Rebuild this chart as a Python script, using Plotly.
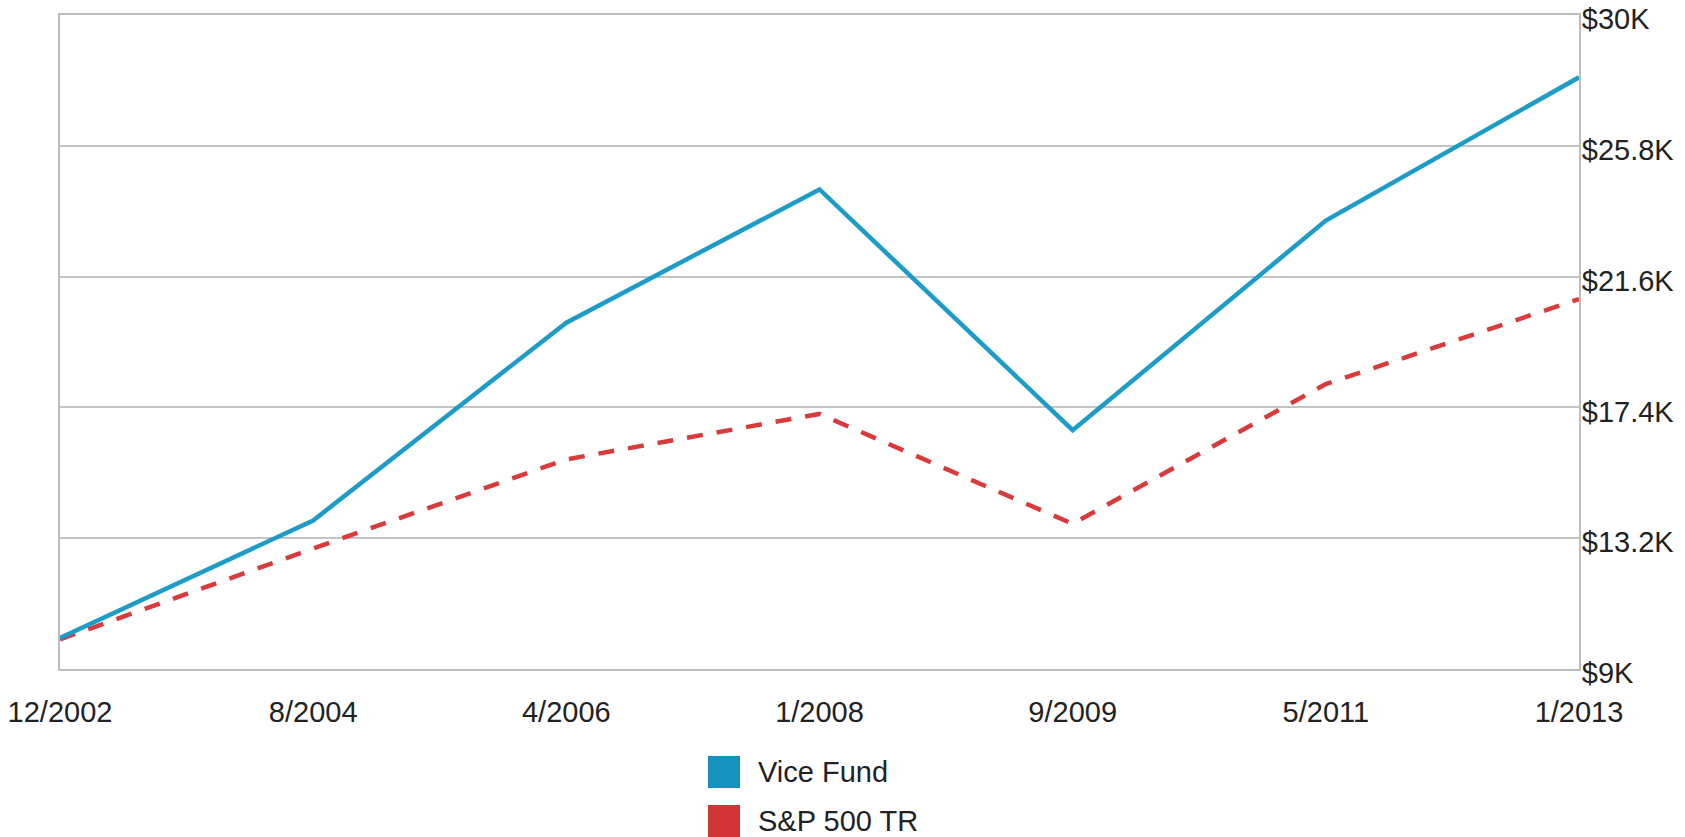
import plotly.graph_objects as go

dates = ["12/2002", "8/2004", "4/2006", "1/2008", "9/2009", "5/2011", "1/2013"]
vice_fund = [10000, 13770, 20120, 24400, 16670, 23400, 28000]
sp500_tr = [9950, 12870, 15730, 17190, 13660, 18150, 20880]
y_ticks = [9000, 13200, 17400, 21600, 25800, 30000]
y_labels = ["$9K", "$13.2K", "$17.4K", "$21.6K", "$25.8K", "$30K"]

BLUE = "#1c9cc6"
RED = "#d93a3c"
FONT = "Liberation Sans, Arial, Helvetica, sans-serif"

fig = go.Figure()
fig.add_trace(go.Scatter(x=list(range(len(dates))), y=sp500_tr, mode="lines",
                         name="S&P 500 TR", line=dict(color=RED, width=4.5, dash="16px,14px"),
                         showlegend=False))
fig.add_trace(go.Scatter(x=list(range(len(dates))), y=vice_fund, mode="lines",
                         name="Vice Fund", line=dict(color=BLUE, width=4.5),
                         showlegend=False))

fig.update_layout(
    width=1685, height=837,
    margin=dict(l=60, r=106, t=15, b=168, autoexpand=False),
    paper_bgcolor="white", plot_bgcolor="white",
    font=dict(family=FONT, size=29, color="#222222"),
    xaxis=dict(range=[0, 6], tickvals=list(range(len(dates))), ticktext=dates,
               showgrid=False, zeroline=False, showline=True, mirror=True,
               linecolor="#bdbdbd", linewidth=2, ticks="", ticklabelstandoff=16,
               automargin=False, ticklabeloverflow="allow"),
    yaxis=dict(range=[9000, 30000], tickvals=y_ticks, ticktext=y_labels,
               side="right", showgrid=True, gridcolor="#c4c4c4", gridwidth=2,
               zeroline=False, showline=True, mirror=True,
               linecolor="#bdbdbd", linewidth=2, ticks="", ticklabelstandoff=-5,
               ticklabelshift=4, automargin=False, ticklabeloverflow="allow"),
)

# manual legend
legend_items = [("Vice Fund", "#1592bd"), ("S&P 500 TR", "#d13636")]
row_centers = [772, 821]
x0px, size = 708, 32
px2x = lambda p: (p - 60) / 1519
px2y = lambda p: (669 - p) / 654
for (label, col), yc in zip(legend_items, row_centers):
    fig.add_shape(type="rect", xref="paper", yref="paper",
                  x0=px2x(x0px), x1=px2x(x0px + size),
                  y0=px2y(yc - size / 2), y1=px2y(yc + size / 2),
                  fillcolor=col, line=dict(width=0))
    fig.add_annotation(xref="paper", yref="paper", x=px2x(756), y=px2y(yc),
                       text=label, showarrow=False, xanchor="left", yanchor="middle",
                       font=dict(family=FONT, size=29, color="#222222"))

fig.write_html("out.html")
